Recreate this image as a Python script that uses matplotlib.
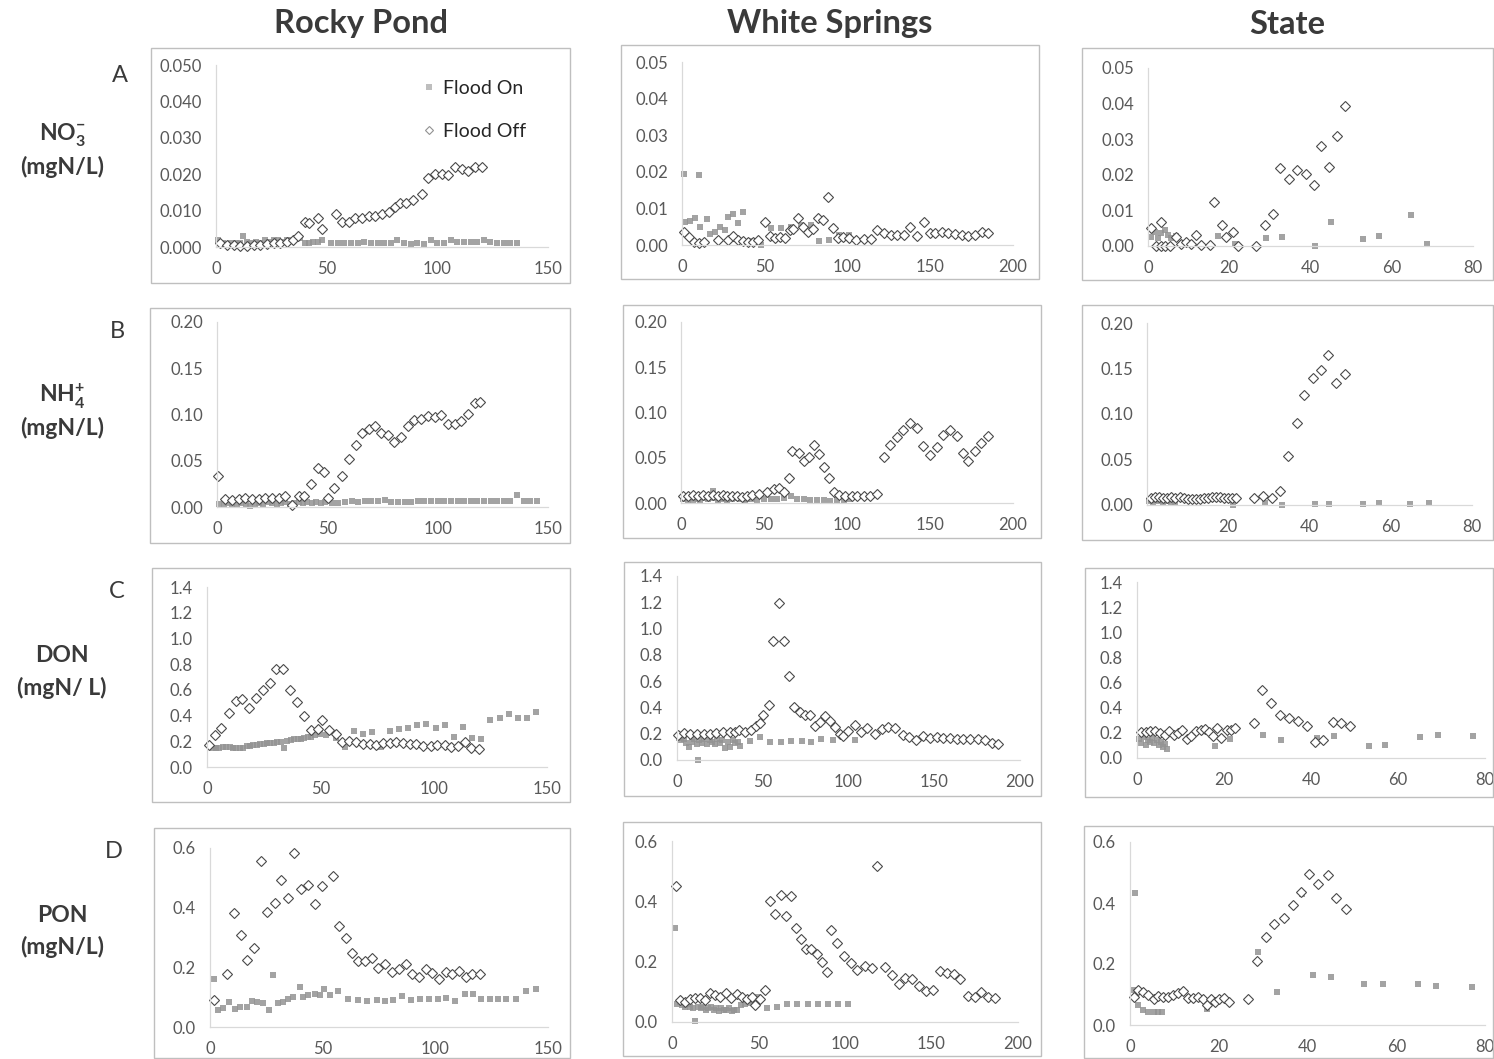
import numpy as np
import matplotlib.pyplot as plt
from matplotlib.patches import Rectangle

plt.rcParams['font.family'] = ['Lato', 'DejaVu Sans']
plt.rcParams['mathtext.fontset'] = 'custom'
plt.rcParams['mathtext.rm'] = 'Lato'
plt.rcParams['mathtext.bf'] = 'Lato:bold'

# ---- NO3- (mgN/L) ----
rocky_no3_on_x = [1, 3, 5, 7, 9, 11, 12, 14, 16, 18, 20, 22, 24, 26, 28, 30, 32, 34, 36, 38,
                  40, 42, 44, 46, 48, 52, 55, 58, 61, 64, 67, 70, 73, 76, 79, 82, 85, 88, 91, 94,
                  97, 100, 103, 106, 109, 112, 115, 118, 121, 124, 127, 130, 133, 136]
rocky_no3_on_y = [0.002, 0.001, 0.0008, 0.001, 0.0012, 0.001, 0.003, 0.0015, 0.001, 0.0015,
                  0.0012, 0.0018, 0.0015, 0.002, 0.0018, 0.0015, 0.002, 0.0018, 0.0022, 0.0025,
                  0.0012, 0.0012, 0.0015, 0.0015, 0.0018, 0.0012, 0.001, 0.001, 0.0012, 0.0012,
                  0.0015, 0.0012, 0.0012, 0.0012, 0.0012, 0.0018, 0.001, 0.0008, 0.001, 0.0008,
                  0.0018, 0.0012, 0.0012, 0.0018, 0.0015, 0.0015, 0.0015, 0.0015, 0.002, 0.0015,
                  0.001, 0.001, 0.0012, 0.0012]
rocky_no3_off_x = [2, 5, 8, 11, 14, 17, 20, 23, 26, 29, 32, 35, 37,
                   40, 42, 46, 48, 54, 57, 60, 63, 66, 69, 72, 75, 78, 81, 83, 86, 89, 93, 96, 99,
                   102, 105, 108, 111, 114, 117, 120]
rocky_no3_off_y = [0.001, 0.0005, 0.0005, 0.0003, 0.0004, 0.0005, 0.0006, 0.0007, 0.001, 0.0012,
                   0.0015, 0.002, 0.003,
                   0.007, 0.0065, 0.008, 0.005, 0.009, 0.007, 0.007, 0.008, 0.008, 0.0085, 0.0085,
                   0.009, 0.0095, 0.011, 0.012, 0.012, 0.013, 0.0145, 0.019, 0.02, 0.02, 0.0197,
                   0.022, 0.0214, 0.0208, 0.0221, 0.022]

white_no3_on_x = [1, 2, 5, 8, 10, 11, 15, 17, 20, 23, 26, 28, 31, 34, 37, 41, 45, 48, 54, 60,
                  66, 72, 78, 83, 89, 95, 101]
white_no3_on_y = [0.0195, 0.0064, 0.0065, 0.0075, 0.019, 0.005, 0.007, 0.003, 0.0036, 0.005,
                  0.004, 0.0077, 0.0086, 0.006, 0.009, 0.001, 0.001, 0.0, 0.0047, 0.0047,
                  0.005, 0.0055, 0.0055, 0.001, 0.0014, 0.0027, 0.0027]
white_no3_off_x = [1, 4, 7, 10, 13, 22, 28, 31, 34, 37, 40, 43, 46, 50, 53, 56, 59, 62, 65, 67,
                   70, 73, 76, 79, 82, 85, 88, 91, 94, 97, 101, 105, 110, 114, 118, 122, 126, 130,
                   134, 138, 142, 146, 150, 153, 157, 161, 165, 169, 173, 177, 181, 185]
white_no3_off_y = [0.0036, 0.0023, 0.0009, 0.0005, 0.0009, 0.0014, 0.0014, 0.0025, 0.0015, 0.001,
                   0.0009, 0.0009, 0.0014, 0.0064, 0.0025, 0.0018, 0.0021, 0.0018, 0.0041, 0.0045,
                   0.0073, 0.005, 0.0036, 0.0045, 0.0073, 0.0068, 0.013, 0.0047, 0.002, 0.0023,
                   0.0018, 0.0014, 0.0016, 0.0016, 0.0041, 0.0032, 0.0027, 0.0027, 0.0027, 0.005,
                   0.0025, 0.0062, 0.0032, 0.0032, 0.0035, 0.0032, 0.003, 0.0027, 0.0025, 0.0027,
                   0.0036, 0.0034]

state_no3_on_x = [0.8, 1.6, 2.5, 3.3, 4.1, 4.9, 5.7, 7, 17.2, 21.3, 29.1, 33.1, 41.2, 45.1,
                  52.9, 56.8, 64.8, 68.7]
state_no3_on_y = [0.0026, 0.004, 0.0022, 0.0036, 0.0045, 0.0031, 0.0022, 0.0029, 0.0029, 0.0005,
                  0.0023, 0.0026, 0.0, 0.0068, 0.0019, 0.0028, 0.0087, 0.0006]
state_no3_off_x = [0.8, 2, 3.3, 3.3, 4.3, 5.3, 7, 8.2, 9.4, 10.7, 11.9, 13.1, 15.2, 16.2, 18.3,
                   19.1, 20.9, 22.1, 26.7, 28.7, 30.8, 32.6, 34.7, 36.7, 38.8, 40.8, 42.7, 44.5,
                   46.6, 48.6]
state_no3_off_y = [0.005, 0.0, 0.0068, 0.0, 0.0, 0.0, 0.0026, 0.0005, 0.0012, 0.0005, 0.0031,
                   0.0003, 0.0003, 0.0125, 0.0059, 0.0026, 0.0038, 0.0, 0.0, 0.0059, 0.009, 0.022,
                   0.0188, 0.0214, 0.0202, 0.0172, 0.028, 0.0221, 0.031, 0.0394]

# ---- NH4+ (mgN/L) ----
rocky_nh4_on_x = [1, 3, 5, 7, 9, 11, 13, 15, 17, 19, 21, 23, 25, 27, 29, 31, 33, 35, 37, 39,
                  41, 43, 45, 47, 49, 52, 55, 58, 61, 64, 67, 70, 73, 76, 79, 82, 85, 88, 91, 94,
                  97, 100, 103, 106, 109, 112, 115, 118, 121, 124, 127, 130, 133, 136, 139, 142, 145]
rocky_nh4_on_y = [0.003, 0.002, 0.004, 0.003, 0.002, 0.004, 0.003, 0.001, 0.003, 0.004,
                  0.003, 0.005, 0.004, 0.003, 0.004, 0.005, 0.003, 0.004, 0.005, 0.004,
                  0.005, 0.004, 0.005, 0.004, 0.005,
                  0.004, 0.004, 0.005, 0.006, 0.005, 0.006, 0.006, 0.007, 0.008, 0.005,
                  0.005, 0.005, 0.005, 0.006, 0.006, 0.006, 0.006, 0.006, 0.007, 0.007,
                  0.007, 0.007, 0.007, 0.006, 0.006, 0.006, 0.006, 0.006, 0.0125, 0.007,
                  0.007, 0.007]
rocky_nh4_off_x = [0.3, 3.8, 6.8, 9.8, 12.9, 15.9, 18.9, 21.9, 25, 28, 31, 34, 37, 39.6, 42.6,
                   45.7, 48.7, 50.2, 53.2, 56.7, 59.7, 62.8, 65.8, 68.8, 71.4, 74.4, 77.4, 80.4,
                   83.5, 86.5, 89.5, 92.5, 95.6, 98.6, 101.6, 104.6, 107.7, 110.7, 113.7, 116.7, 119]
rocky_nh4_off_y = [0.034, 0.009, 0.008, 0.009, 0.010, 0.009, 0.009, 0.0097, 0.0097, 0.010,
                   0.0115, 0.002, 0.012, 0.012, 0.025, 0.042, 0.038, 0.0097, 0.0205, 0.034,
                   0.0515, 0.067, 0.080, 0.084, 0.088, 0.080, 0.0775, 0.070, 0.0757, 0.0875,
                   0.0937, 0.0955, 0.098, 0.097, 0.099, 0.090, 0.090, 0.0926, 0.101, 0.112, 0.1135]

white_nh4_on_x = [1, 2.5, 4, 5.5, 7, 8.5, 10, 11.5, 13, 14.5, 16, 17.5, 19, 20.5, 22, 23.5, 25,
                  26.5, 28, 29.5, 31, 32.5, 34, 35.5, 37, 38.5, 40, 43, 46, 50, 54, 58, 62, 66,
                  70, 74, 78, 82, 86, 90, 94, 98, 101]
white_nh4_on_y = [0.004, 0.006, 0.003, 0.005, 0.002, 0.006, 0.004, 0.003, 0.007, 0.005,
                  0.004, 0.006, 0.013, 0.005, 0.003, 0.006, 0.004, 0.005, 0.003, 0.006,
                  0.004, 0.005, 0.006, 0.004, 0.005, 0.003, 0.004,
                  0.004, 0.003, 0.004, 0.004, 0.004, 0.005, 0.008, 0.004, 0.004, 0.003,
                  0.003, 0.003, 0.002, 0.003, 0.003, 0.004]
white_nh4_off_x = [1, 4, 7, 10, 13, 16, 19, 22, 25, 28, 31, 34, 37, 40, 43,
                   47, 52, 56, 59, 62, 65, 67, 71, 74, 77, 80, 83, 86, 89, 92, 95, 99, 103, 106,
                   110, 114, 118, 122, 126, 130, 134, 138, 142, 146, 150, 154, 158, 162, 166, 170,
                   173, 177, 181, 185]
white_nh4_off_y = [0.008, 0.008, 0.009, 0.008, 0.009, 0.008, 0.009, 0.008, 0.009, 0.008,
                   0.008, 0.008, 0.007, 0.008, 0.009,
                   0.0099, 0.012, 0.0158, 0.017, 0.012, 0.0275, 0.057, 0.055, 0.046, 0.0506,
                   0.064, 0.054, 0.0396, 0.028, 0.012, 0.0084, 0.0073, 0.0073, 0.0073, 0.0073,
                   0.008, 0.0099, 0.0506, 0.064, 0.073, 0.081, 0.088, 0.083, 0.0635, 0.053,
                   0.062, 0.075, 0.081, 0.0745, 0.055, 0.046, 0.057, 0.0668, 0.074]

state_nh4_on_x = [0.5, 1, 1.5, 2, 2.5, 3, 3.5, 4, 4.5, 5, 6, 7, 21.2, 29.1, 33.2, 41.3, 44.7,
                  53.2, 57, 64.8, 69.3]
state_nh4_on_y = [0.004, 0.006, 0.003, 0.007, 0.005, 0.004, 0.006, 0.003, 0.005, 0.004,
                  0.003, 0.002, 0.0, 0.002, 0.0, 0.0007, 0.0007, 0.0007, 0.002, 0.0007, 0.002]
state_nh4_off_x = [1, 2, 3, 4, 5, 6, 7, 8, 9, 10, 11, 12, 13, 14, 15, 16, 17, 18, 19, 20, 21, 22,
                   26.4, 28.5, 30.8, 32.8, 34.6, 36.8, 38.7, 40.9, 42.8, 44.5, 46.6, 48.8]
state_nh4_off_y = [0.008, 0.009, 0.009, 0.008, 0.008, 0.009, 0.008, 0.009, 0.008, 0.007, 0.007,
                   0.007, 0.007, 0.008, 0.008, 0.009, 0.009, 0.009, 0.008, 0.008, 0.008, 0.008,
                   0.008, 0.010, 0.008, 0.0154, 0.054, 0.09, 0.121, 0.14, 0.1486, 0.165, 0.134,
                   0.144]

# ---- DON (mgN/L) ----
rocky_don_on_x = [1, 2.5, 4, 5.5, 7, 8.5, 10, 11.5, 13, 14.5, 16, 17.5, 19, 20.5, 22, 23.5, 25,
                  26.5, 28, 29.5, 31, 32.5, 34, 35.5, 37, 38.5, 40, 41.5, 43, 44.5, 46, 47.5,
                  49.7, 52.6, 56.8, 60.7, 64.7, 68.8, 72.9, 76.9, 80.6, 84.7, 88.7, 92.8, 96.8,
                  100.9, 104.9, 108.8, 112.9, 117.1, 121, 125, 129.1, 133.2, 137.2, 141.3, 145.3]
rocky_don_on_y = [0.17, 0.15, 0.15, 0.15, 0.155, 0.155, 0.155, 0.15, 0.15, 0.15,
                  0.145, 0.16, 0.165, 0.17, 0.175, 0.18, 0.18, 0.185, 0.19, 0.19,
                  0.195, 0.195, 0.15, 0.2, 0.21, 0.215, 0.215, 0.22, 0.225, 0.23, 0.23, 0.25,
                  0.26, 0.246, 0.225, 0.156, 0.28, 0.26, 0.272, 0.156, 0.28, 0.293, 0.303,
                  0.324, 0.337, 0.306, 0.324, 0.233, 0.311, 0.225, 0.22, 0.363, 0.384, 0.415,
                  0.384, 0.384, 0.428]
rocky_don_off_x = [0.9, 3.4, 6.3, 9.6, 12.6, 15.6, 18.5, 21.8, 24.7, 27.6, 30.6, 33.5, 36.8,
                   39.9, 42.8, 45.7, 49, 50.9, 53.7, 56.8, 59.7, 62.6, 65.9, 68.8, 71.8, 74.7,
                   77.6, 80.6, 83.5, 86.5, 89.4, 92.4, 95.3, 98.7, 101.6, 104.9, 107.8, 110.7,
                   113.7, 116.6, 120]
rocky_don_off_y = [0.17, 0.246, 0.30, 0.42, 0.51, 0.526, 0.46, 0.537, 0.596, 0.656, 0.76, 0.76,
                   0.596, 0.506, 0.394, 0.29, 0.293, 0.363, 0.285, 0.259, 0.194, 0.202, 0.194,
                   0.18, 0.176, 0.169, 0.187, 0.187, 0.194, 0.187, 0.18, 0.18, 0.161, 0.161,
                   0.174, 0.169, 0.156, 0.161, 0.194, 0.148, 0.143]

white_don_on_x = [1, 2.5, 4, 5.5, 7, 8.5, 10, 11.5, 12.3, 13, 14.5, 16, 17.5, 19, 20.5, 22, 23.5,
                  25, 26.5, 28, 29.5, 31, 32.5, 34, 35.5, 37,
                  42.4, 48.2, 54, 60.9, 66.7, 72.6, 78.4, 84.2, 90.7, 96.5, 103.7]
white_don_on_y = [0.17, 0.15, 0.16, 0.13, 0.1, 0.14, 0.16, 0.12, 0.0, 0.15, 0.13, 0.16, 0.12,
                  0.15, 0.14, 0.12, 0.16, 0.13, 0.15, 0.09, 0.14, 0.1, 0.15, 0.13, 0.14, 0.11,
                  0.147, 0.177, 0.139, 0.139, 0.147, 0.147, 0.139, 0.16, 0.152, 0.182, 0.152]
white_don_off_x = [0.6, 3.9, 7.8, 11.7, 15.6, 19.5, 23, 26.8, 30.7, 33.7, 36.2, 39.5, 43, 45.9,
                   48.2, 50.2, 53.7, 56, 59.5, 62.3, 65.4, 68.1, 71.6, 74.5, 77.8, 80.4, 83.3,
                   86.2, 89.1, 92, 94.9, 96.9, 99.8, 103.7, 107, 110.9, 115.4, 119.3, 123.2, 127,
                   131.5, 135.4, 139.3, 143.6, 147.5, 151.4, 155.3, 159.1, 163, 166.9, 170.8,
                   175.7, 179.6, 183.5, 187.4]
white_don_off_y = [0.19, 0.208, 0.2, 0.2, 0.2, 0.2, 0.208, 0.21, 0.215, 0.215, 0.228, 0.215,
                   0.228, 0.258, 0.278, 0.342, 0.418, 0.906, 1.197, 0.906, 0.638, 0.405, 0.367,
                   0.342, 0.342, 0.258, 0.286, 0.334, 0.296, 0.253, 0.197, 0.182, 0.223, 0.266,
                   0.215, 0.24, 0.2, 0.233, 0.253, 0.24, 0.19, 0.172, 0.152, 0.182, 0.165, 0.172,
                   0.165, 0.165, 0.157, 0.157, 0.157, 0.157, 0.152, 0.127, 0.119]

state_don_on_x = [0.5, 1, 1.5, 2, 2.5, 3, 3.5, 4, 4.5, 5, 5.5, 6, 6.5, 7, 17.9, 21.3, 29, 33.2,
                  41.3, 45.2, 53.4, 57, 65, 69.1, 77.3]
state_don_on_y = [0.15, 0.12, 0.17, 0.1, 0.14, 0.13, 0.16, 0.12, 0.14, 0.1, 0.13, 0.09, 0.11,
                  0.07, 0.098, 0.15, 0.18, 0.145, 0.158, 0.172, 0.092, 0.1, 0.164, 0.18, 0.177]
state_don_off_x = [1, 2.1, 3.1, 4.1, 5.2, 6.4, 7.4, 8.4, 9.4, 10.4, 11.5, 12.5, 13.5, 14.6, 15.6,
                   16.6, 17.5, 18.5, 19.4, 20.6, 21.5, 22.5, 26.8, 28.8, 30.9, 32.8, 34.9, 36.9,
                   39, 40.9, 42.8, 45, 46.9, 48.9]
state_don_off_y = [0.203, 0.203, 0.211, 0.211, 0.198, 0.185, 0.211, 0.18, 0.198, 0.225, 0.153,
                   0.172, 0.211, 0.225, 0.232, 0.206, 0.172, 0.238, 0.158, 0.225, 0.225, 0.238,
                   0.277, 0.541, 0.441, 0.343, 0.322, 0.298, 0.251, 0.124, 0.145, 0.29, 0.277,
                   0.256]

# ---- PON (mgN/L) ----
rocky_pon_on_x = [1.9, 3.7, 5.9, 8.6, 11.1, 13.3, 16.3, 18.5, 20.7, 23.6, 26.3, 28.1, 30.3, 32.5,
                  34.7, 36.9, 39.9, 41.4, 43.6, 46.5, 48.8, 50.5, 53.2, 56.9, 61.3, 65.8, 69.5,
                  73.9, 77.6, 81.3, 85, 89.4, 93.1, 97.2, 101.2, 104.9, 108.6, 113, 116.7, 120.4,
                  124.1, 127.8, 131.5, 136, 140.4, 144.5]
rocky_pon_on_y = [0.16, 0.058, 0.064, 0.084, 0.062, 0.067, 0.067, 0.086, 0.084, 0.079, 0.056,
                  0.174, 0.079, 0.084, 0.093, 0.101, 0.135, 0.101, 0.107, 0.112, 0.107, 0.129,
                  0.107, 0.12, 0.095, 0.09, 0.086, 0.09, 0.087, 0.09, 0.104, 0.09, 0.093, 0.095,
                  0.095, 0.098, 0.087, 0.109, 0.109, 0.093, 0.093, 0.093, 0.095, 0.095, 0.12, 0.127]
rocky_pon_off_x = [1.9, 7.7, 10.8, 13.6, 16.6, 19.7, 22.6, 25.4, 28.8, 31.5, 34.7, 37.4, 40.6,
                   43.6, 46.5, 49.5, 54.4, 57.3, 60.3, 62.8, 65.8, 68.7, 71.7, 74.6, 77.6, 80.8,
                   83.8, 86.9, 89.8, 92.8, 95.8, 98.7, 101.7, 104.6, 107.6, 110.5, 113.5, 116.4,
                   119.7]
rocky_pon_off_y = [0.09, 0.179, 0.381, 0.308, 0.226, 0.264, 0.558, 0.385, 0.417, 0.493, 0.434,
                   0.583, 0.462, 0.477, 0.413, 0.471, 0.505, 0.34, 0.30, 0.249, 0.221, 0.222,
                   0.23, 0.198, 0.21, 0.185, 0.193, 0.21, 0.177, 0.166, 0.194, 0.182, 0.16, 0.185,
                   0.177, 0.188, 0.168, 0.177, 0.176]

white_pon_on_x = [1.9, 3, 4.5, 6, 7.5, 9, 10.5, 12, 13.5, 15, 16.5, 18, 19.5, 21, 22.5, 24, 25.5,
                  27, 28.5, 30, 31.5, 33, 34.5, 36, 37.5, 40, 42, 45, 47, 49, 54.8, 60.6, 66.3,
                  72.1, 78.8, 84.6, 90.4, 96.2, 101.9]
white_pon_on_y = [0.313, 0.06, 0.065, 0.055, 0.05, 0.06, 0.05, 0.045, 0.003, 0.05, 0.045, 0.05,
                  0.04, 0.045, 0.05, 0.04, 0.045, 0.035, 0.045, 0.04, 0.04, 0.045, 0.035, 0.04,
                  0.04, 0.055, 0.06, 0.063, 0.07, 0.083, 0.048, 0.05, 0.059, 0.061, 0.061, 0.061,
                  0.061, 0.059, 0.059]
white_pon_off_x = [2.3, 4.8, 7.7, 10.6, 13.5, 16.3, 19.2, 22.1, 25, 27.9, 31.3, 34.2, 37.5, 40.4,
                   43.3, 46.2, 48.1, 51, 53.8, 56.7, 59.6, 62.9, 65.8, 68.8, 71.7, 74.6, 77.5,
                   80.2, 83.7, 86.5, 89.4, 91.9, 95.6, 99.4, 103.3, 107.1, 111.5, 115.4, 118.7,
                   123.1, 126.9, 131.3, 134.6, 139, 142.9, 146.7, 151, 155.2, 159, 162.9, 166.7,
                   171.2, 175, 178.8, 182.7, 186.5]
white_pon_off_y = [0.45, 0.072, 0.066, 0.077, 0.08, 0.081, 0.074, 0.096, 0.091, 0.083, 0.097,
                   0.081, 0.092, 0.083, 0.075, 0.083, 0.055, 0.077, 0.105, 0.401, 0.357, 0.42,
                   0.351, 0.417, 0.313, 0.274, 0.243, 0.243, 0.224, 0.199, 0.166, 0.306, 0.262,
                   0.218, 0.196, 0.173, 0.185, 0.179, 0.517, 0.182, 0.155, 0.127, 0.146, 0.141,
                   0.119, 0.102, 0.105, 0.168, 0.164, 0.158, 0.141, 0.085, 0.083, 0.099, 0.083,
                   0.08]

state_pon_on_x = [0.8, 1.1, 1.9, 3, 4.1, 5.3, 6.4, 7.1, 17.3, 28.9, 33.1, 38.7, 41.2, 45.2,
                  52.7, 57, 65, 69, 77]
state_pon_on_y = [0.115, 0.433, 0.065, 0.049, 0.044, 0.041, 0.041, 0.044, 0.051, 0.24, 0.109,
                  0.43, 0.164, 0.158, 0.133, 0.133, 0.133, 0.128, 0.125]
state_pon_off_x = [0.8, 1.9, 3, 4.1, 5.3, 6.4, 7.5, 8.6, 9.8, 10.9, 12, 13.1, 14.3, 15.4, 16.5,
                   17.3, 18.3, 19.2, 20.1, 21.2, 22.2, 26.7, 28.7, 30.7, 32.5, 34.6, 36.7, 38.5,
                   40.4, 42.4, 44.6, 46.4, 48.7]
state_pon_off_y = [0.093, 0.115, 0.109, 0.098, 0.085, 0.096, 0.093, 0.093, 0.1, 0.104, 0.112,
                   0.087, 0.089, 0.093, 0.085, 0.065, 0.085, 0.076, 0.085, 0.089, 0.076, 0.085,
                   0.209, 0.287, 0.331, 0.352, 0.393, 0.436, 0.496, 0.461, 0.491, 0.418, 0.379]

sites = ['Rocky Pond', 'White Springs', 'State']
row_letters = ['A', 'B', 'C', 'D']
row_names = [r'NO$_\mathbf{3}^\mathbf{-}$', r'NH$_\mathbf{4}^\mathbf{+}$', 'DON', 'PON']
row_units = ['(mgN/L)', '(mgN/L)', '(mgN/ L)', '(mgN/L)']

W, H = 1494, 1059
fig = plt.figure(figsize=(W / 100, H / 100), dpi=100)

# pixel layout: outer frame (x1, y1, x2, y2) and plot area (left, right, top, zero line)
frames = [[(151, 48, 570, 283), (621, 45, 1039, 279), (1082, 48, 1493, 280)],
          [(150, 308, 570, 543), (623, 305, 1041, 538), (1082, 305, 1493, 540)],
          [(152, 568, 570, 802), (624, 562, 1041, 796), (1085, 568, 1493, 797)],
          [(154, 828, 570, 1058), (623, 822, 1041, 1056), (1084, 826, 1493, 1058)]]
areas = [[(216, 548, 65, 247), (682, 1013, 62, 245), (1148, 1473, 68, 246)],
         [(217, 548, 322, 507), (681, 1013, 322, 503), (1147, 1472, 323, 505)],
         [(207, 547, 587, 767), (677, 1020, 576, 760), (1137, 1485, 582, 758)],
         [(210, 548, 848, 1027), (672, 1018, 841, 1022), (1130, 1485, 842, 1025)]]
xmaxes = [150, 200, 80]
xsteps = [50, 50, 20]
yaxes = [(0.05, 0.01), (0.20, 0.05), (1.4, 0.2), (0.6, 0.2)]
yfmts = [['%.3f', '%.2f', '%.2f'], ['%.2f'] * 3, ['%.1f'] * 3, ['%.1f'] * 3]

series = [
    [(rocky_no3_on_x, rocky_no3_on_y, rocky_no3_off_x, rocky_no3_off_y),
     (white_no3_on_x, white_no3_on_y, white_no3_off_x, white_no3_off_y),
     (state_no3_on_x, state_no3_on_y, state_no3_off_x, state_no3_off_y)],
    [(rocky_nh4_on_x, rocky_nh4_on_y, rocky_nh4_off_x, rocky_nh4_off_y),
     (white_nh4_on_x, white_nh4_on_y, white_nh4_off_x, white_nh4_off_y),
     (state_nh4_on_x, state_nh4_on_y, state_nh4_off_x, state_nh4_off_y)],
    [(rocky_don_on_x, rocky_don_on_y, rocky_don_off_x, rocky_don_off_y),
     (white_don_on_x, white_don_on_y, white_don_off_x, white_don_off_y),
     (state_don_on_x, state_don_on_y, state_don_off_x, state_don_off_y)],
    [(rocky_pon_on_x, rocky_pon_on_y, rocky_pon_off_x, rocky_pon_off_y),
     (white_pon_on_x, white_pon_on_y, white_pon_off_x, white_pon_off_y),
     (state_pon_on_x, state_pon_on_y, state_pon_off_x, state_pon_off_y)],
]

tick_col = '#595959'
axis_col = '#d9d9d9'
label_col = '#3a3a3a'

for r in range(4):
    ymax, ystep = yaxes[r]
    for c in range(3):
        x1, y1, x2, y2 = frames[r][c]
        fig.patches.append(Rectangle((x1 / W, 1 - y2 / H), (x2 - x1) / W, (y2 - y1) / H,
                                     transform=fig.transFigure, fill=False,
                                     ec='#bfbfbf', lw=1.0))
        left, right, top, zero = areas[r][c]
        ax = fig.add_axes([left / W, 1 - zero / H, (right - left) / W, (zero - top) / H])
        on_x, on_y, off_x, off_y = series[r][c]
        h_on, = ax.plot(on_x, on_y, ls='none', marker='s', ms=5, color='#939393',
                        alpha=0.85, mew=0, clip_on=False, label='Flood On')
        h_off, = ax.plot(off_x, off_y, ls='none', marker='D', ms=5, mfc='white',
                         mec='#4a4a4a', mew=0.8, clip_on=False, label='Flood Off')
        ax.set_xlim(0, xmaxes[c])
        ax.set_ylim(0, ymax)
        ax.set_xticks(np.arange(0, xmaxes[c] + 1, xsteps[c]))
        yt = np.arange(0, ymax + ystep / 2, ystep)
        ax.set_yticks(yt)
        ax.set_yticklabels([yfmts[r][c] % v for v in yt])
        ax.tick_params(length=0, labelsize=12, colors=tick_col, pad=10)
        for s in ['top', 'right']:
            ax.spines[s].set_visible(False)
        for s in ['left', 'bottom']:
            ax.spines[s].set_color(axis_col)
            ax.spines[s].set_linewidth(0.9)
        ax.patch.set_alpha(0)
        if r == 0 and c == 0:
            leg = ax.legend(handles=[h_on, h_off], loc='upper left',
                            bbox_to_anchor=(412 / W, 1 - 70 / H),
                            bbox_transform=fig.transFigure, frameon=False, fontsize=14,
                            handlelength=0.7, handletextpad=0.4, labelspacing=1.35,
                            markerscale=0.75, borderpad=0)
            for t in leg.get_texts():
                t.set_color('#262626')
            for lh in leg.legend_handles:
                lh.set_alpha(0.6)

# column headings
for c, name in enumerate(sites):
    cx = (frames[0][c][0] + frames[0][c][2]) / 2
    fig.text(cx / W, 1 - 24 / H, name, ha='center', va='center', fontsize=23.5,
             fontweight='bold', color=label_col)

# row labels
letter_pos = [(120, 75), (117, 332), (117, 591), (114, 851)]
name_pos = [135, 396, 656, 915]
for r in range(4):
    lx, ly = letter_pos[r]
    fig.text(lx / W, 1 - ly / H, row_letters[r], ha='center', va='center', fontsize=17,
             color=label_col)
    fig.text(62 / W, 1 - name_pos[r] / H, row_names[r], ha='center', va='center',
             fontsize=16.5, fontweight='bold', color=label_col)
    fig.text(62 / W, 1 - (name_pos[r] + 32) / H, row_units[r], ha='center', va='center',
             fontsize=16.5, fontweight='bold', color=label_col)

fig.savefig('out.png', dpi=100)
